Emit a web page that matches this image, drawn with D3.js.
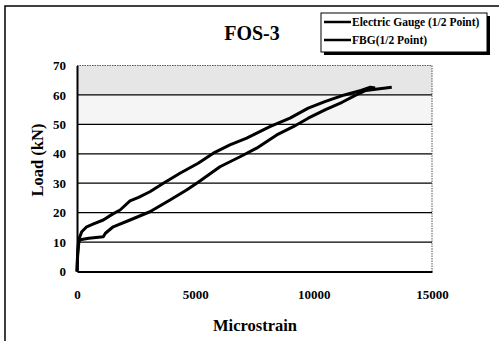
<!DOCTYPE html>
<html><head><meta charset="utf-8">
<script src="https://cdn.jsdelivr.net/npm/d3@7"></script>
<style>body{margin:0;background:#fff;}svg{display:block;}</style>
</head><body>
<svg id="c" width="499" height="341"></svg>
<script>
const title = "FOS-3";
const xLabel = "Microstrain";
const yLabel = "Load (kN)";
const seriesNames = ["Electric Gauge (1/2 Point)", "FBG(1/2 Point)"];
const xTicks = [0, 5000, 10000, 15000];
const yTicks = [0, 10, 20, 30, 40, 50, 60, 70];
const gaugeStrain = [0, 20, 50, 80, 200, 410, 700, 1110, 1500, 1820, 2240, 2600, 3080, 3650, 4350, 5120, 5760, 6460, 7170, 8150, 9000, 9770, 10500, 11300, 12000, 12400, 12600];
const gaugeLoad   = [0, 5, 9, 11, 13.5, 15.2, 16.2, 17.5, 19.5, 20.9, 24.0, 25.2, 27.1, 30.0, 33.4, 36.8, 40.2, 43.0, 45.3, 49.2, 52.1, 55.5, 57.8, 60.0, 61.5, 62.6, 62.4];
const fbgStrain = [0, 30, 80, 130, 500, 1110, 1200, 1530, 2240, 3080, 3930, 4630, 5120, 6040, 6890, 7590, 8440, 9140, 9770, 10500, 11200, 11800, 12200, 12700, 13300];
const fbgLoad   = [0, 6, 10, 10.8, 11.3, 11.8, 13, 15.2, 17.5, 20.3, 24.3, 27.7, 30.3, 35.6, 39.0, 41.9, 46.4, 49.2, 52.1, 55.0, 57.5, 60.0, 61.5, 62.0, 62.6];

const svg = d3.select("#c");
const x = d3.scaleLinear().domain([0, 15000]).range([77, 432]);
const y = d3.scaleLinear().domain([0, 70]).range([271.5, 65.5]);
const serif = "'Liberation Serif','Times New Roman',serif";

// outer frame (left + top)
svg.append("path").attr("d","M5,341 V6 H499").attr("fill","none").attr("stroke","#000").attr("stroke-width",1.5);

// light scan-like shading in upper bands
svg.append("rect").attr("x", x(0)).attr("y", y(70)).attr("width", x(15000)-x(0)).attr("height", y(60)-y(70)).attr("fill","#e6e6e6");
svg.append("rect").attr("x", x(0)).attr("y", y(60)).attr("width", x(15000)-x(0)).attr("height", y(50)-y(60)).attr("fill","#f5f5f5");

// gridlines
svg.append("g").selectAll("line").data(yTicks.filter(d=>d>0 && d<70)).join("line")
  .attr("x1", x(0)).attr("x2", x(15000)).attr("y1", d=>y(d)).attr("y2", d=>y(d))
  .attr("stroke","#000").attr("stroke-width",1.2);

// plot border: top & right dotted
svg.append("path").attr("d", `M${x(0)},${y(70)} H${x(15000)} V${y(0)}`).attr("fill","none")
  .attr("stroke","#555").attr("stroke-width",1).attr("stroke-dasharray","1.5,1");

// axes
const xAxis = svg.append("g").attr("transform", `translate(0,${y(0)})`)
  .call(d3.axisBottom(x).tickValues(xTicks).tickSize(0).tickPadding(18).tickFormat(d3.format("d")));
const yAxis = svg.append("g").attr("transform", `translate(${x(0)},0)`)
  .call(d3.axisLeft(y).tickValues(yTicks).tickSize(0).tickPadding(11));
[xAxis, yAxis].forEach(g => {
  g.select(".domain").attr("stroke","#000").attr("stroke-width",2);
  g.selectAll("text").attr("font-family", serif).attr("font-weight","bold").attr("font-size",13).attr("fill","#000");
});

// series lines
const line = d3.line().x(d=>x(d[0])).y(d=>y(d[1]));
const series = [
  d3.zip(gaugeStrain, gaugeLoad),
  d3.zip(fbgStrain, fbgLoad)
];
svg.append("g").selectAll("path").data(series).join("path")
  .attr("d", line).attr("fill","none").attr("stroke","#000").attr("stroke-width",3)
  .attr("stroke-linejoin","round");

// title
svg.append("text").attr("x", 252).attr("y", 40).attr("text-anchor","middle")
  .attr("font-family", serif).attr("font-weight","bold").attr("font-size",20).text(title);
// axis titles
svg.append("text").attr("x", 255).attr("y", 331).attr("text-anchor","middle")
  .attr("font-family", serif).attr("font-weight","bold").attr("font-size",16.5).text(xLabel);
svg.append("text").attr("transform","translate(43,160) rotate(-90)").attr("text-anchor","middle")
  .attr("font-family", serif).attr("font-weight","bold").attr("font-size",16.5).text(yLabel);

// legend
const lg = svg.append("g");
lg.append("rect").attr("x", 324).attr("y", 16).attr("width", 166).attr("height", 39).attr("fill","#000");
lg.append("rect").attr("x", 321).attr("y", 13).attr("width", 166).attr("height", 39).attr("fill","#fff").attr("stroke","#000").attr("stroke-width",1);
lg.selectAll("line").data(seriesNames).join("line")
  .attr("x1", 324).attr("x2", 351).attr("y1", (d,i)=>22+i*18).attr("y2",(d,i)=>22+i*18)
  .attr("stroke","#000").attr("stroke-width",2.5);
lg.selectAll("text").data(seriesNames).join("text")
  .attr("x", 352).attr("y", (d,i)=>26+i*18)
  .attr("font-family", serif).attr("font-weight","bold").attr("font-size",11.5)
  .text(d=>d);
</script>
</body></html>
